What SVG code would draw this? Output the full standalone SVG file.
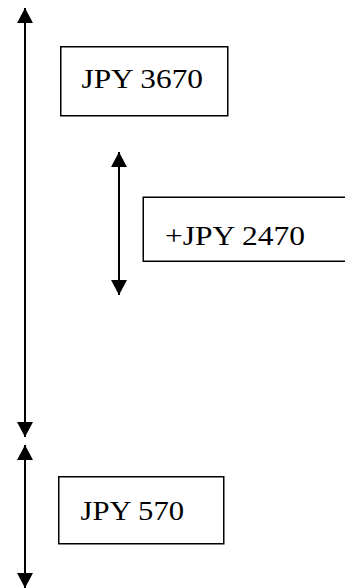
<svg xmlns="http://www.w3.org/2000/svg" width="345" height="588" viewBox="0 0 345 588">
<defs>
<marker id="ah" viewBox="0 0 15 16" refX="15" refY="8" markerWidth="15" markerHeight="16" markerUnits="userSpaceOnUse" orient="auto-start-reverse">
<path d="M0,0 L15,8 L0,16 Z" fill="#000"/>
</marker>
</defs>
<style>
.box{fill:#fff;stroke:#000;stroke-width:1.5}
.lbl{font-family:"Liberation Serif","DejaVu Serif",serif;font-size:28px;fill:#000}
.conn{stroke:#000;stroke-width:2;fill:none;marker-start:url(#ah);marker-end:url(#ah)}
</style>
<rect width="345" height="588" fill="#fff"/>
<g id="connectors">
<line class="conn" x1="25" y1="8" x2="25" y2="437"/>
<line class="conn" x1="119" y1="152" x2="119" y2="295"/>
<line class="conn" x1="25" y1="445" x2="25" y2="588"/>
</g>
<g id="node-jpy3670">
<rect class="box" x="60.75" y="46.75" width="167" height="69"/>
<text class="lbl" x="81.5" y="88" textLength="121.5" lengthAdjust="spacingAndGlyphs">JPY 3670</text>
</g>
<g id="node-jpy2470">
<rect class="box" x="143.25" y="197.25" width="210" height="64"/>
<text class="lbl" x="165" y="245" textLength="140" lengthAdjust="spacingAndGlyphs">+JPY 2470</text>
</g>
<g id="node-jpy570">
<rect class="box" x="58.75" y="476.75" width="165" height="67"/>
<text class="lbl" x="80.5" y="520" textLength="103.5" lengthAdjust="spacingAndGlyphs">JPY 570</text>
</g>
</svg>
